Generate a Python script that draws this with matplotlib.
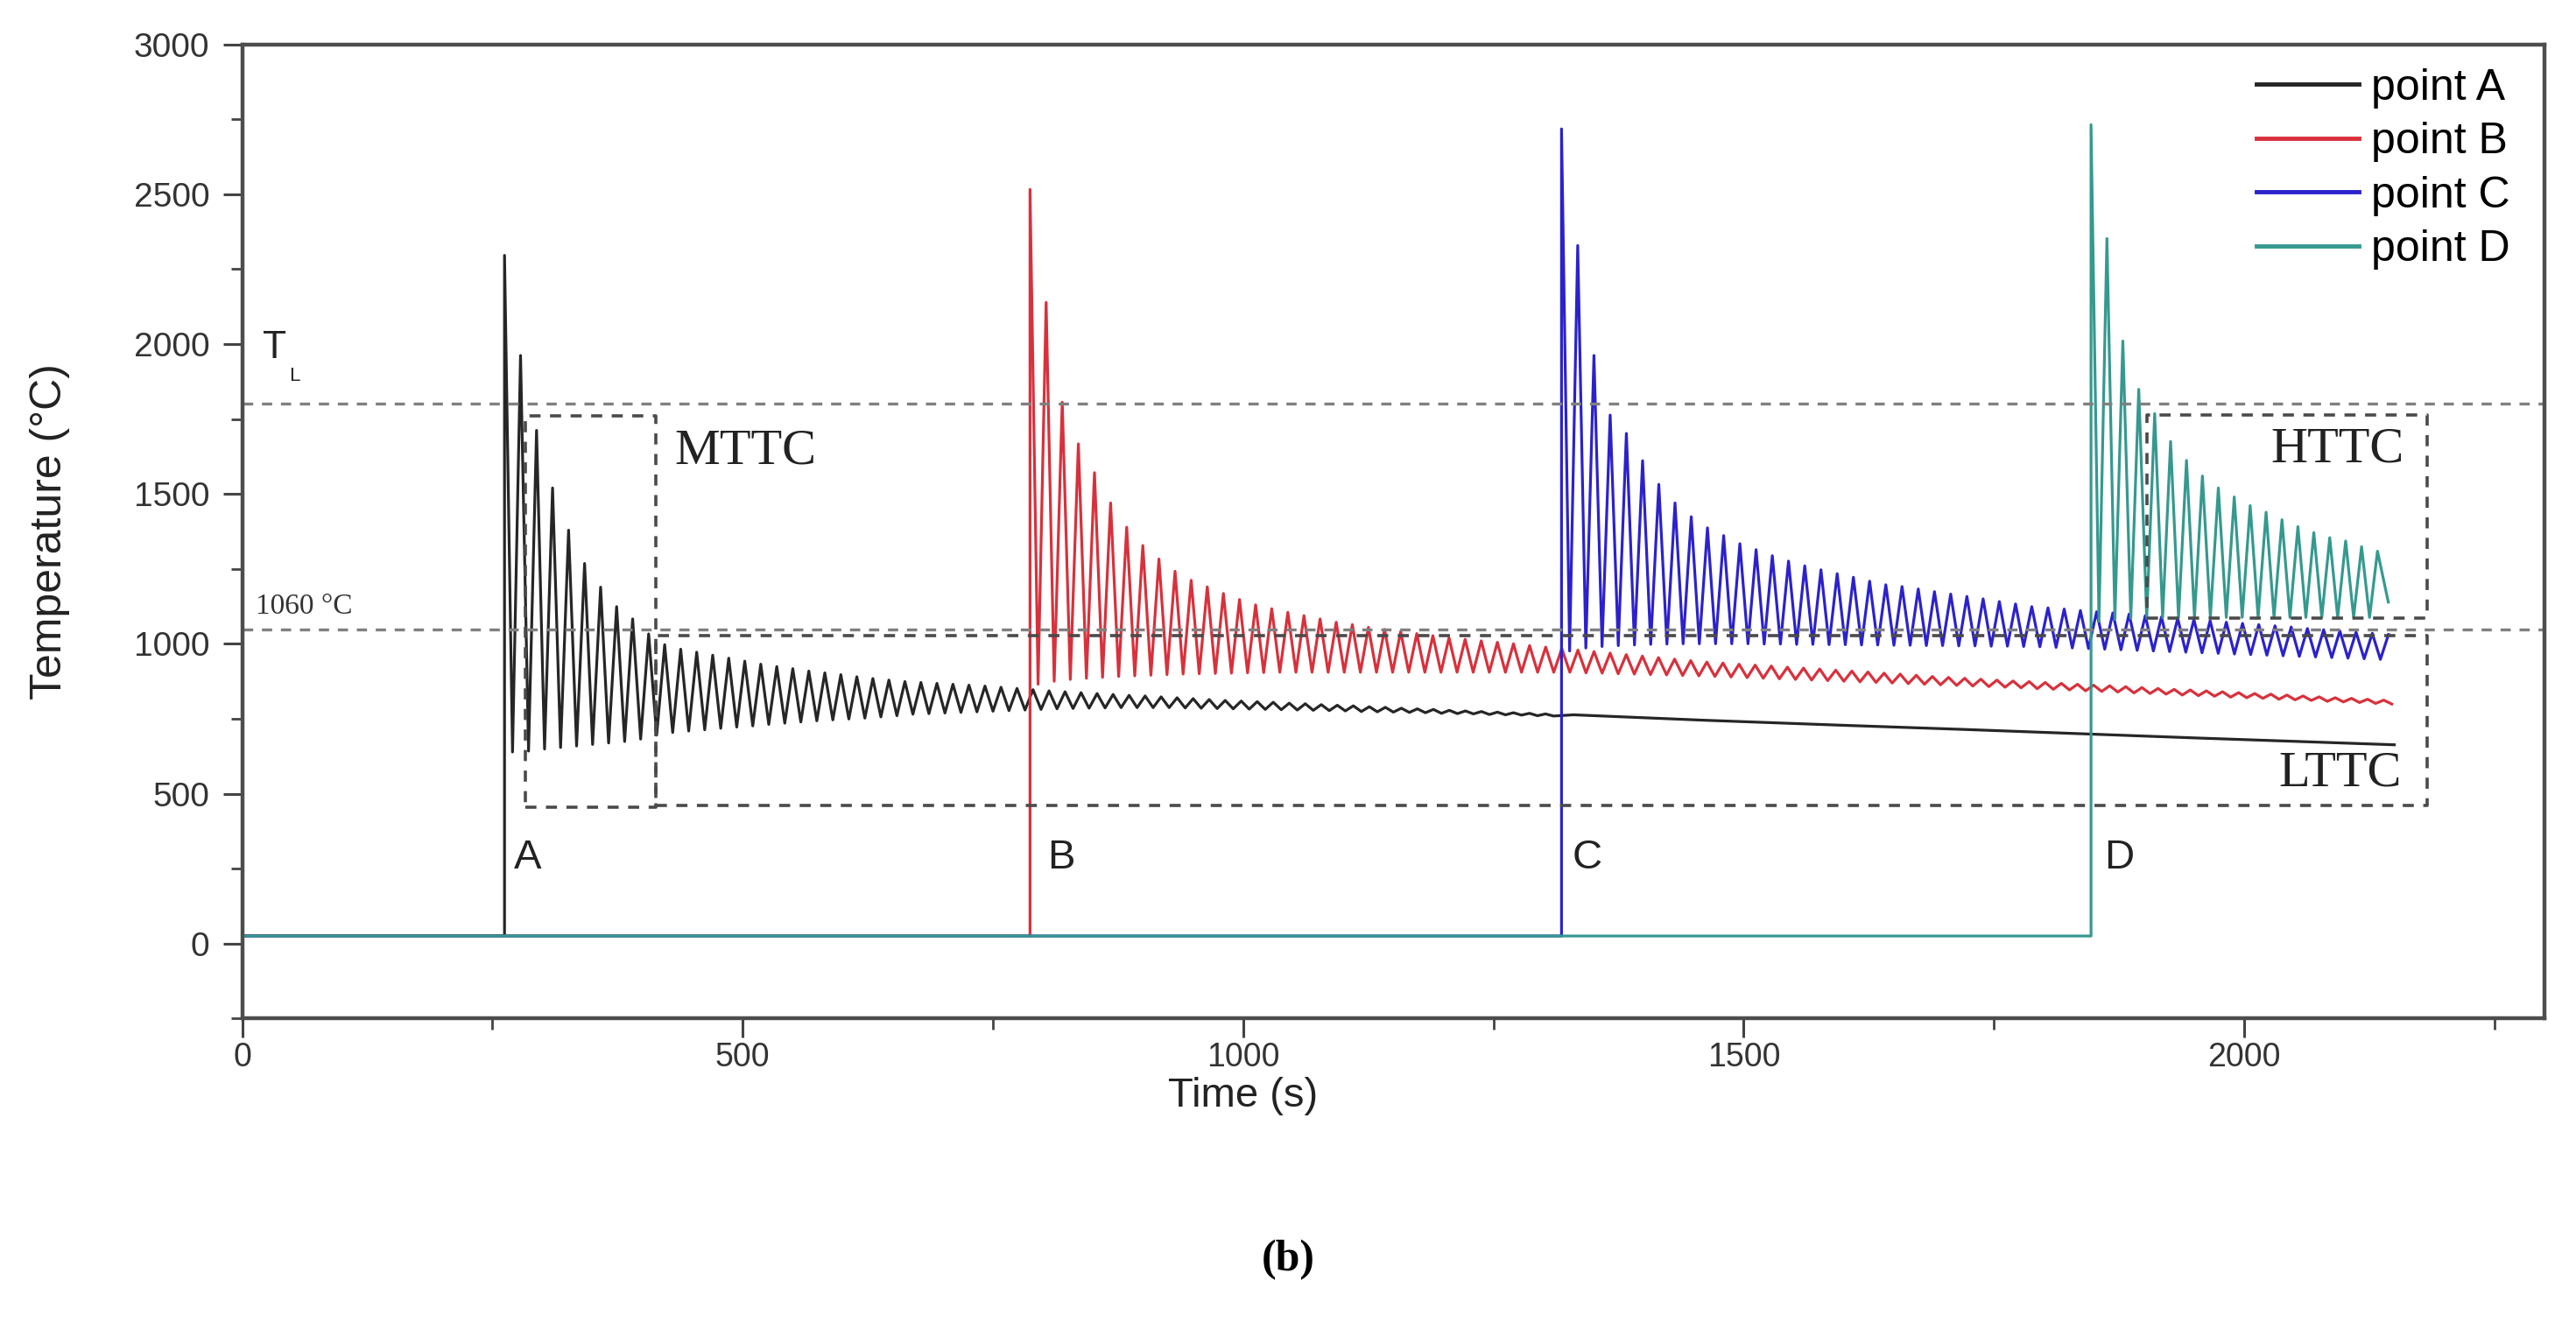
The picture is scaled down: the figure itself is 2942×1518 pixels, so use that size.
import matplotlib.pyplot as plt
from matplotlib.ticker import MultipleLocator

plt.rcParams["font.family"] = ["Liberation Sans", "DejaVu Sans"]

# temperature of the four points, one peak and one trough per pulse cycle
base_temp = 25

a_start, a_period = 262, 16.0
a_peaks = [2296, 1962, 1712, 1520, 1379, 1268, 1189, 1124, 1083, 1033,
           997, 982, 972, 962, 952, 942, 932, 924, 917, 909,
           903, 897, 890, 884, 879, 874, 871, 868, 865, 862,
           859, 855, 851, 847, 843, 840, 837, 834, 831, 828,
           826, 823, 820, 817, 814, 811, 809, 807, 805, 802,
           800, 797, 795, 793, 790, 788, 785, 783, 781, 778,
           776, 774, 772, 770, 768, 766]
a_troughs = [639, 642, 649, 654, 659, 664, 669, 674, 682, 695,
             704, 709, 713, 718, 722, 726, 731, 735, 739, 743,
             746, 749, 752, 756, 760, 765, 767, 769, 771, 773,
             775, 777, 779, 781, 783, 784, 785, 786, 787, 787,
             787, 787, 786, 785, 784, 783, 782, 781, 780, 779,
             778, 777, 776, 774, 773, 772, 771, 770, 768, 767,
             766, 764, 763, 762, 760, 759]
a_tail_t = [1330, 1460, 1600, 1722, 1950, 2150]
a_tail_v = [763, 745, 728, 714, 686, 663]

b_start, b_period = 787, 16.1
b_peaks = [2516, 2139, 1806, 1667, 1571, 1470, 1389, 1328, 1283, 1242,
           1212, 1190, 1168, 1148, 1130, 1117, 1105, 1094, 1083, 1072,
           1064, 1055, 1048, 1041, 1034, 1027, 1020, 1015, 1010, 1005,
           1000, 994, 989, 984, 979, 974, 969, 964, 959, 954,
           949, 944, 939, 936, 932, 929, 926, 922, 919, 916,
           912, 909, 906, 902, 899, 895, 891, 888, 885, 882,
           879, 876, 874, 871, 868, 865, 862, 860, 857, 854,
           851, 848, 846, 843, 840, 837, 834, 832, 829, 826,
           823, 820, 818, 815, 812]
b_troughs = [865, 875, 881, 885, 888, 891, 893, 895, 897, 899,
             900, 901, 902, 903, 904, 905, 905, 905, 905, 905,
             905, 905, 905, 905, 905, 905, 905, 905, 905, 905,
             905, 905, 905, 905, 903, 902, 900, 899, 897, 896,
             894, 893, 891, 889, 887, 885, 883, 881, 879, 877,
             875, 873, 871, 869, 867, 865, 863, 861, 859, 857,
             855, 853, 850, 848, 846, 843, 841, 839, 836, 834,
             832, 829, 827, 825, 822, 820, 818, 815, 813, 811,
             808, 806, 804, 801, 799]
b_tail_t = []
b_tail_v = []

c_start, c_period = 1318, 16.2
c_peaks = [2718, 2329, 1962, 1763, 1702, 1611, 1532, 1470, 1424, 1387,
           1361, 1334, 1314, 1294, 1276, 1260, 1247, 1234, 1222, 1209,
           1197, 1191, 1183, 1174, 1166, 1158, 1150, 1141, 1133, 1124,
           1120, 1116, 1111, 1107, 1103, 1099, 1094, 1090, 1085, 1081,
           1077, 1072, 1068, 1064, 1060, 1056, 1051, 1047, 1043, 1039,
           1035, 1031]
c_troughs = [976, 986, 991, 994, 996, 998, 999, 1000, 1000, 1000,
             1000, 1000, 999, 999, 998, 998, 997, 997, 996, 996,
             995, 995, 994, 994, 993, 993, 992, 992, 991, 990,
             988, 986, 984, 982, 980, 978, 976, 974, 972, 970,
             968, 966, 964, 962, 960, 958, 956, 954, 952, 950, 948]
c_tail_t = []
c_tail_v = []

d_start, d_period = 1847, 15.9
d_peaks = [2732, 2352, 2010, 1849, 1768, 1675, 1612, 1560, 1520, 1490,
           1461, 1439, 1414, 1391, 1371, 1354, 1343, 1324, 1309]
d_troughs = [1075, 1082, 1085, 1086, 1087, 1087, 1088, 1088, 1088, 1088,
             1088, 1088, 1088, 1088, 1088, 1088, 1088, 1088]
d_tail_t = [2144]
d_tail_v = [1139]

t_liquidus = 1800
t_1060 = 1048

# (t_left, t_right, T_bottom, T_top)
mttc_box = (283, 413, 455, 1760)
lttc_box = (413, 2183, 461, 1028)
httc_box = (1903, 2183, 1087, 1762)


def build(start, period, peaks, troughs, tail_t, tail_v):
    t = [0, start]
    v = [base_temp, base_temp]
    for k, pk in enumerate(peaks):
        t.append(start + k * period)
        v.append(pk)
        if k < len(troughs):
            t.append(start + (k + 0.5) * period)
            v.append(troughs[k])
    return t + tail_t, v + tail_v


series = [
    ("point A", "#262626", build(a_start, a_period, a_peaks, a_troughs, a_tail_t, a_tail_v)),
    ("point B", "#d8313c", build(b_start, b_period, b_peaks, b_troughs, b_tail_t, b_tail_v)),
    ("point C", "#2b22cc", build(c_start, c_period, c_peaks, c_troughs, c_tail_t, c_tail_v)),
    ("point D", "#35998f", build(d_start, d_period, d_peaks, d_troughs, d_tail_t, d_tail_v)),
]

fig = plt.figure(figsize=(29.42, 15.18), dpi=100)
ax = fig.add_axes([0.09405, 0.2337, 0.8937, 0.7329])

for name, color, (t, v) in series:
    ax.plot(t, v, color=color, lw=2.3, label=name)

ax.axhline(t_liquidus, color="#808080", lw=2.4, ls=(0, (3.5, 3)))
ax.axhline(t_1060, color="#808080", lw=2.4, ls=(0, (3.5, 3)))

for x0, x1, y0, y1 in [mttc_box, lttc_box, httc_box]:
    ax.plot([x0, x1, x1, x0, x0], [y0, y0, y1, y1, y0],
            color="#4a4a4a", lw=2.6, ls=(0, (3.5, 3)))

serif = ["Liberation Serif", "DejaVu Serif"]
ax.text(432, 1643, "MTTC", family=serif, fontsize=42, ha="left", va="center", color="#222222")
ax.text(2160, 1648, "HTTC", family=serif, fontsize=42, ha="right", va="center", color="#222222")
ax.text(2157, 567, "LTTC", family=serif, fontsize=42, ha="right", va="center", color="#222222")
ax.text(13, 1124, "1060 °C", family=serif, fontsize=24, ha="left", va="center", color="#333333")
ax.text(20, 1988, "T", fontsize=32, ha="left", va="center", color="#222222")
ax.text(47, 1892, "L", fontsize=16, ha="left", va="center", color="#222222")

for lab, tx in zip(["A", "B", "C", "D"], [285, 818, 1344, 1875]):
    ax.text(tx, 284, lab, fontsize=34, ha="center", va="center", color="#222222")

ax.set_xlim(0, 2300)
ax.set_ylim(-250, 3000)
ax.xaxis.set_major_locator(MultipleLocator(500))
ax.xaxis.set_minor_locator(MultipleLocator(250))
ax.yaxis.set_major_locator(MultipleLocator(500))
ax.yaxis.set_minor_locator(MultipleLocator(250))
ax.tick_params(which="major", direction="out", length=16, width=2.2,
               color="#444444", labelcolor="#333333")
ax.tick_params(axis="x", which="major", labelsize=27, pad=3)
ax.tick_params(axis="y", which="major", labelsize=28, pad=11)
ax.tick_params(which="minor", direction="out", length=9.5, width=2, color="#444444")
for sp in ax.spines.values():
    sp.set_linewidth(3.2)
    sp.set_color("#4d4d4d")

ax.set_xlabel("Time (s)", fontsize=34, color="#222222")
ax.xaxis.set_label_coords(1000 / 2300, -0.06)
ax.set_ylabel("Temperature (°C)", fontsize=36, labelpad=52, color="#222222")

leg = ax.legend(loc="upper right", bbox_to_anchor=(1.002, 1.0162), frameon=False,
                fontsize=36, handlelength=2.34, handletextpad=0.28, labelspacing=0.31)
for line in leg.get_lines():
    line.set_linewidth(3.5)

fig.text(0.5, 0.052, "(b)", family=serif, fontsize=36, fontweight="bold",
         ha="center", va="center")

fig.savefig("out.png", dpi=100)
